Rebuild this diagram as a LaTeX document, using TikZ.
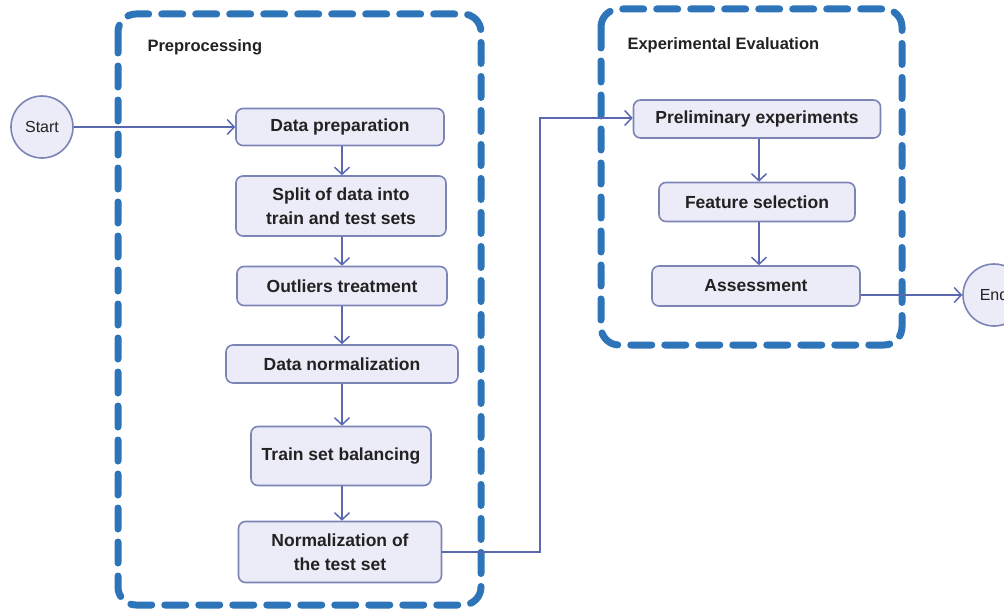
\documentclass[tikz,border=0pt]{standalone}
\usepackage{fontspec}
\setmainfont{Liberation Sans}
\usetikzlibrary{arrows.meta}
\definecolor{stageblue}{HTML}{2E74B8}
\definecolor{boxfill}{HTML}{ECECF8}
\definecolor{boxline}{HTML}{7C84B6}
\definecolor{flowline}{HTML}{5A68B0}
\definecolor{ink}{HTML}{222222}
\begin{document}
\begin{tikzpicture}[x=1pt,y=-1pt,
  stage/.style={draw=stageblue, line width=7pt, dash pattern=on 21pt off 13pt,
    line cap=round, rounded corners=18pt},
  stepbox/.style={draw=boxline, fill=boxfill, line width=1.6pt, rounded corners=7pt,
    align=center, text=ink, font=\fontsize{17.5}{24}\selectfont\bfseries, inner sep=0pt},
  terminal/.style={circle, draw=boxline, fill=boxfill, line width=1.6pt, text=ink,
    minimum size=62pt, inner sep=0pt, font=\fontsize{16}{19}\selectfont},
  heading/.style={anchor=west, text=ink, font=\fontsize{16.5}{19}\selectfont\bfseries},
  flow/.style={draw=flowline, line width=1.5pt,
    -{Straight Barb[length=7pt,width=15pt,line width=1.5pt]}}]
\useasboundingbox (0,0) rectangle (1004,610);

% stage frames
\draw[stage] (118,14) rectangle (481,605);
\draw[stage] (601,9) rectangle (902,345);
\node[heading] (pre) at (144,47) {Preprocessing};
\node[heading] (exp) at (624,45) {Experimental Evaluation};

% terminals
\node[terminal] (start) at (42,127) {Start};
\node[terminal] (end) at (994,295) {End};

% preprocessing steps
\node[stepbox, minimum width=208pt, minimum height=37pt] (prep) at (340,127) {Data preparation};
\node[stepbox, minimum width=210pt, minimum height=60pt] (split) at (341,206) {Split of data into\\train and test sets};
\node[stepbox, minimum width=210pt, minimum height=39pt] (outl) at (342,286) {Outliers treatment};
\node[stepbox, minimum width=232pt, minimum height=38pt] (norm) at (342,364) {Data normalization};
\node[stepbox, minimum width=180pt, minimum height=59pt] (bal) at (341,456) {Train set balancing};
\node[stepbox, minimum width=203pt, minimum height=61pt] (ntest) at (340,552) {Normalization of\\the test set};

% evaluation steps
\node[stepbox, minimum width=247pt, minimum height=38pt] (prelim) at (757,119) {Preliminary experiments};
\node[stepbox, minimum width=196pt, minimum height=39pt] (feat) at (757,202) {Feature selection};
\node[stepbox, minimum width=208pt, minimum height=40pt] (assess) at (756,286) {Assessment};

% connectors
\draw[flow] (start) -- (prep);
\draw[flow] (prep.south -| 342,0) -- (split.north -| 342,0);
\draw[flow] (split.south -| 342,0) -- (outl.north -| 342,0);
\draw[flow] (outl.south -| 342,0) -- (norm.north -| 342,0);
\draw[flow] (norm.south -| 342,0) -- (bal.north -| 342,0);
\draw[flow] (bal.south -| 342,0) -- (ntest.north -| 342,0);
\draw[flow] (ntest.east) -- (540,552) -- (540,118) -- (prelim.west |- 0,118);
\draw[flow] (prelim.south -| 759,0) -- (feat.north -| 759,0);
\draw[flow] (feat.south -| 759,0) -- (assess.north -| 759,0);
\draw[flow] (assess.east |- end.west) -- (end.west);
\end{tikzpicture}
\end{document}
